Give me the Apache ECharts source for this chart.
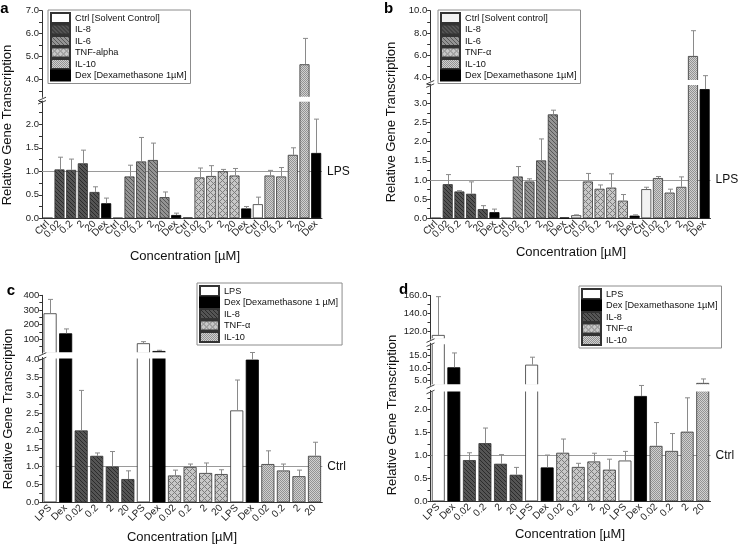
<!DOCTYPE html>
<html>
<head>
<meta charset="utf-8">
<script src="https://cdn.jsdelivr.net/npm/echarts@6/dist/echarts.min.js"></script>
<style>
  html, body { margin: 0; padding: 0; background: #fff; }
  #main { width: 738px; height: 547px; }
</style>
</head>
<body>
<div id="main"></div>
<script>
var FONT = 'Liberation Sans, Arial, sans-serif';

// ---- categories ----
var groupAB = ['Ctrl', '0.02', '0.2', '2', '20', 'Dex'];
var groupCD = ['LPS', 'Dex', '0.02', '0.2', '2', '20'];
var catsA = groupAB.concat(groupAB, groupAB, groupAB);
var catsB = catsA;
var catsC = groupCD.concat(groupCD, groupCD);
var catsD = catsC;

// which series every bar belongs to
var kindsA = ['ctrl', 'il8', 'il8', 'il8', 'il8', 'dex',
              'ctrl', 'il6', 'il6', 'il6', 'il6', 'dex',
              'ctrl', 'tnf', 'tnf', 'tnf', 'tnf', 'dex',
              'ctrl', 'il10', 'il10', 'il10', 'il10', 'dex'];
var kindsB = kindsA;
var kindsC = ['lps', 'dex', 'il8', 'il8', 'il8', 'il8',
              'lps', 'dex', 'tnf', 'tnf', 'tnf', 'tnf',
              'lps', 'dex', 'il10', 'il10', 'il10', 'il10'];
var kindsD = kindsC;

// ---- values (bar height) and top of error bar ----
var valsA = [0.01, 1.04, 1.03, 1.17, 0.56, 0.32,
             0.01, 0.89, 1.21, 1.24, 0.45, 0.07,
             0.02, 0.87, 0.90, 1.00, 0.91, 0.21,
             0.30, 0.91, 0.89, 1.35, 4.66, 1.39];
var errA  = [null, 1.30, 1.26, 1.45, 0.67, 0.43,
             null, 1.13, 1.72, 1.60, 0.56, 0.11,
             null, 1.07, 1.12, 1.04, 1.06, 0.25,
             0.45, 1.02, 1.08, 1.50, 5.79, 2.11];

var valsB = [0.01, 0.89, 0.70, 0.64, 0.24, 0.16,
             0.01, 1.09, 0.96, 1.51, 2.71, 0.02,
             0.08, 0.96, 0.77, 0.80, 0.46, 0.07,
             0.76, 1.05, 0.67, 0.82, 5.92, 3.37];
var errB  = [null, 1.14, 0.72, 0.95, 0.33, 0.24,
             null, 1.35, 1.03, 2.07, 2.82, null,
             0.09, 1.17, 0.87, 1.16, 0.62, 0.09,
             0.81, 1.09, 0.76, 1.08, 8.2, 3.72];

var valsC = [277, 140, 2.01, 1.30, 1.00, 0.65,
             72, 19, 0.75, 0.99, 0.82, 0.79,
             2.57, 3.99, 1.07, 0.89, 0.73, 1.30];
var errC  = [372, 170, 3.13, 1.38, 1.42, 0.88,
             83, 24, 0.90, 1.07, 1.10, 0.91,
             3.42, 4.19, 1.44, 1.07, 0.90, 1.68];

var valsD = [116.1, 10.36, 0.90, 1.27, 0.82, 0.58,
             11.4, 0.74, 1.06, 0.75, 0.87, 0.69,
             0.89, 2.30, 1.21, 1.10, 1.52, 4.1];
var errD  = [158.7, 16.1, 1.06, 1.60, 1.02, 0.74,
             14.4, 1.01, 1.36, 0.83, 1.05, 0.92,
             1.09, 2.53, 1.72, 1.48, 2.26, 5.7];

// ---- tick labels ----
var aTopLabels = [4, 5, 6, 7];
var aLowLabels = [0, 0.5, 1, 1.5, 2];
var bTopLabels = [4, 6, 8, 10];
var bLowLabels = [0, 0.5, 1, 1.5, 2, 2.5, 3];
var cTopLabels = [100, 200, 300, 400];
var cLowLabels = [0, 0.5, 1, 1.5, 2, 2.5, 3, 3.5, 4];
var dTopLabels = [120, 140, 160];
var dMidLabels = [5, 10, 15];
var dLowLabels = [0, 0.5, 1, 1.5, 2];

// legend names
var namesA = { ctrl: 'Ctrl [Solvent Control]', il8: 'IL-8', il6: 'IL-6', tnf: 'TNF-alpha', il10: 'IL-10', dex: 'Dex [Dexamethasone 1µM]' };
var namesB = { ctrl: 'Ctrl [Solvent control]', il8: 'IL-8', il6: 'IL-6', tnf: 'TNF-α', il10: 'IL-10', dex: 'Dex [Dexamethasone 1µM]' };
var namesC = { lps: 'LPS', dex: 'Dex [Dexamethasone 1 µM]', il8: 'IL-8', tnf: 'TNF-α', il10: 'IL-10' };
var namesD = { lps: 'LPS', dex: 'Dex [Dexamethasone 1µM]', il8: 'IL-8', tnf: 'TNF-α', il10: 'IL-10' };

function steps(a, b, s) {
  var out = [];
  for (var v = a; v <= b + 1e-9; v += s) out.push(+v.toFixed(4));
  return out;
}

// small tiled patterns for the hatched bars
function makePattern(base, ink, size, test) {
  var c = document.createElement('canvas');
  c.width = size; c.height = size;
  var ctx = c.getContext('2d');
  ctx.fillStyle = base;
  ctx.fillRect(0, 0, size, size);
  ctx.fillStyle = ink;
  for (var y = 0; y < size; y++) {
    for (var x = 0; x < size; x++) {
      if (test(x, y, size)) ctx.fillRect(x, y, 1, 1);
    }
  }
  return { image: c, repeat: 'repeat' };
}
var fills = {
  ctrl: '#ffffff',
  lps: '#ffffff',
  dex: '#000000',
  il8: makePattern('#555555', '#2b2b2b', 4, function (x, y, n) { return (x - y + n) % n === 0; }),
  il6: makePattern('#949494', '#575757', 4, function (x, y, n) { return (x - y + n) % n === 0; }),
  tnf: makePattern('#c8c8c8', '#7c7c7c', 6, function (x, y, n) { return (x - y + n) % n === 0 || (x + y) % n === 0; }),
  il10: makePattern('#d0d0d0', '#939393', 2, function (x, y) { return (x + y) % 2 === 0; })
};

var panels = [
  { cats: catsA, kinds: kindsA, vals: valsA, errs: errA, names: namesA,
    order: ['ctrl', 'il8', 'il6', 'tnf', 'il10', 'dex'],
    left: 42, width: 280, barWidth: '86%', ref: 'LPS', letter: 'a',
    letterPos: [4.5, 8.5], xTitle: [185, 256], yTitle: [7.5, 125],
    legend: { left: 48, top: 10 },
    segs: [
      { top: 10.7, height: 87, min: 3.2, max: 7, labels: aTopLabels, ticks: steps(3.5, 7, 0.5), dec: 1 },
      { top: 100.8, height: 117.5, min: 0, max: 2.5, labels: aLowLabels, ticks: steps(0, 2.5, 0.25), dec: 1 }
    ] },
  { cats: catsB, kinds: kindsB, vals: valsB, errs: errB, names: namesB,
    order: ['ctrl', 'il8', 'il6', 'tnf', 'il10', 'dex'], ctrlFill: '#f2f2f2',
    left: 430.2, width: 280.3, barWidth: '86%', ref: 'LPS', letter: 'b',
    letterPos: [388.5, 8.5], xTitle: [571, 252], yTitle: [391, 122],
    legend: { left: 438, top: 10 },
    segs: [
      { top: 10.7, height: 70.3, min: 3.67, max: 10, labels: bTopLabels, ticks: steps(4, 10, 1), dec: 1 },
      { top: 84.1, height: 134.2, min: 0, max: 3.5, labels: bLowLabels, ticks: steps(0, 3.5, 0.25), dec: 1 }
    ] },
  { cats: catsC, kinds: kindsC, vals: valsC, errs: errC, names: namesC,
    order: ['lps', 'dex', 'il8', 'tnf', 'il10'],
    left: 42.3, width: 280, barWidth: '84%', ref: 'Ctrl', letter: 'c',
    letterPos: [11, 291], xTitle: [182, 537], yTitle: [8.7, 409],
    legend: { left: 197, top: 283 },
    segs: [
      { top: 295.3, height: 57.9, min: 4.1, max: 400, labels: cTopLabels, ticks: steps(50, 400, 50), dec: 0 },
      { top: 357.5, height: 144.8, min: 0, max: 4.05, labels: cLowLabels, ticks: steps(0, 4, 0.25), dec: 1 }
    ] },
  { cats: catsD, kinds: kindsD, vals: valsD, errs: errD, names: namesD,
    order: ['lps', 'dex', 'il8', 'tnf', 'il10'],
    left: 430.5, width: 280, barWidth: '83%', ref: 'Ctrl', letter: 'd',
    letterPos: [403.5, 290], xTitle: [570, 534], yTitle: [392, 415],
    legend: { left: 579, top: 286 },
    segs: [
      { top: 295.5, height: 43.8, min: 111.3, max: 160, labels: dTopLabels, ticks: steps(120, 160, 10), dec: 1 },
      { top: 343.2, height: 42.1, min: 3.16, max: 20, labels: dMidLabels, ticks: steps(5, 17.5, 2.5), dec: 1 },
      { top: 390.5, height: 110.8, min: 0, max: 2.42, labels: dLowLabels, ticks: steps(0, 2.25, 0.25), dec: 1 }
    ] }
];

function renderErr(params, api) {
  var lo = api.coord([api.value(0), api.value(1)]);
  var hi = api.coord([api.value(0), api.value(2)]);
  var x = Math.round(lo[0]) + 0.5;
  var w = 2.5;
  return {
    type: 'group',
    children: [
      { type: 'line', shape: { x1: x, y1: lo[1], x2: x, y2: hi[1] }, style: { stroke: '#8a8a8a', lineWidth: 1 } },
      { type: 'line', shape: { x1: x - w, y1: hi[1], x2: x + w, y2: hi[1] }, style: { stroke: '#8a8a8a', lineWidth: 1 } }
    ]
  };
}

var grids = [], xAxes = [], yAxes = [], series = [], legends = [], graphics = [];

panels.forEach(function (p) {
  var n = p.segs.length;
  p.segs.forEach(function (s, si) {
    var gi = grids.length;
    var isBottom = si === n - 1;
    grids.push({ left: p.left, top: s.top, width: p.width, height: s.height,
                 containLabel: false, outerBoundsMode: 'none' });
    xAxes.push({
      type: 'category', gridIndex: gi, data: p.cats, show: isBottom,
      axisLine: { lineStyle: { color: '#333', width: 1 } },
      axisTick: { alignWithLabel: true, interval: 0, length: 3, lineStyle: { color: '#333' } },
      axisLabel: { interval: 0, rotate: 45, fontSize: 10, color: '#222', margin: 4, fontFamily: FONT }
    });
    yAxes.push({
      type: 'value', gridIndex: gi, min: s.min, max: s.max,
      splitLine: { show: false },
      axisLine: { show: true, lineStyle: { color: '#333', width: 1 } },
      axisTick: { show: true, length: 3, customValues: s.ticks, lineStyle: { color: '#333' } },
      axisLabel: {
        customValues: s.labels, fontSize: 9.5, color: '#222', margin: 3, fontFamily: FONT,
        formatter: (function (dec) { return function (v) { return (+v).toFixed(dec); }; })(s.dec)
      }
    });

    p.order.forEach(function (k, ki) {
      var fill = (k === 'ctrl' && p.ctrlFill) ? p.ctrlFill : fills[k];
      var ser = {
        type: 'bar', name: p.names[k], xAxisIndex: gi, yAxisIndex: gi,
        barWidth: p.barWidth, barGap: '-100%', z: 3, silent: true, clip: true,
        itemStyle: { color: fill, borderColor: k === 'dex' ? '#000' : '#333', borderWidth: 0.8 },
        data: p.vals.map(function (v, i) { return p.kinds[i] === k ? v : '-'; })
      };
      if (isBottom && ki === 0) {
        ser.markLine = {
          silent: true, symbol: ['none', 'none'], z: 1,
          lineStyle: { color: '#9a9a9a', width: 1, type: 'solid' },
          label: { show: true, position: 'end', formatter: p.ref, color: '#111', fontSize: 12, fontFamily: FONT, distance: 5 },
          data: [{ yAxis: 1 }]
        };
      }
      series.push(ser);
    });

    // error bars drawn in the segment that holds the bar top
    var errData = [];
    p.vals.forEach(function (v, i) {
      if (p.errs[i] == null) return;
      var inSeg = (v >= s.min && v <= s.max) || (si === n - 1 && v < s.min);
      if (inSeg) errData.push([i, v, p.errs[i]]);
    });
    series.push({
      type: 'custom', xAxisIndex: gi, yAxisIndex: gi, z: 5, silent: true, clip: false,
      renderItem: renderErr, encode: { x: 0, y: [1, 2] }, data: errData
    });

    // axis break: white band over the clipped bar edges, then the marks
    if (si > 0) {
      var prev = p.segs[si - 1];
      var gapTop = prev.top + prev.height;
      graphics.push({ type: 'rect', silent: true, z: 3.5,
        shape: { x: p.left + 0.7, y: gapTop - 1, width: p.width + 2, height: s.top - gapTop + 2 },
        style: { fill: '#fff' } });
      [gapTop + 1.3, s.top + 1.5].forEach(function (cy) {
        graphics.push({ type: 'line', silent: true, z: 6,
          shape: { x1: p.left - 4, y1: cy + 1.8, x2: p.left + 4, y2: cy - 1.8 },
          style: { stroke: '#444', lineWidth: 1 } });
      });
    }
  });

  legends.push({
    left: p.legend.left, top: p.legend.top, orient: 'vertical', selectedMode: false,
    data: p.order.map(function (k) { return p.names[k]; }),
    icon: 'rect', itemWidth: 19, itemHeight: 10, itemGap: -0.5,
    padding: [2, 4, 2, 2], borderColor: '#8c8c8c', borderWidth: 1, backgroundColor: '#fff',
    textStyle: { fontSize: 9.2, color: '#111', fontFamily: FONT }
  });

  graphics.push({ type: 'text', x: p.letterPos[0], y: p.letterPos[1], silent: true,
    style: { text: p.letter, font: 'bold 15px ' + FONT, fill: '#000', align: 'center', verticalAlign: 'middle' } });
  graphics.push({ type: 'text', x: p.xTitle[0], y: p.xTitle[1], silent: true,
    style: { text: 'Concentration [µM]', font: '13px ' + FONT, fill: '#111', align: 'center', verticalAlign: 'middle' } });
  graphics.push({ type: 'text', x: p.yTitle[0], y: p.yTitle[1], rotation: Math.PI / 2, silent: true,
    style: { text: 'Relative Gene Transcription', font: '13px ' + FONT, fill: '#111', align: 'center', verticalAlign: 'middle' } });
});

var chart = echarts.init(document.getElementById('main'), null, { renderer: 'canvas' });
chart.setOption({
  animation: false,
  backgroundColor: '#fff',
  textStyle: { fontFamily: FONT },
  grid: grids,
  xAxis: xAxes,
  yAxis: yAxes,
  legend: legends,
  series: series,
  graphic: graphics
});
</script>
</body>
</html>
